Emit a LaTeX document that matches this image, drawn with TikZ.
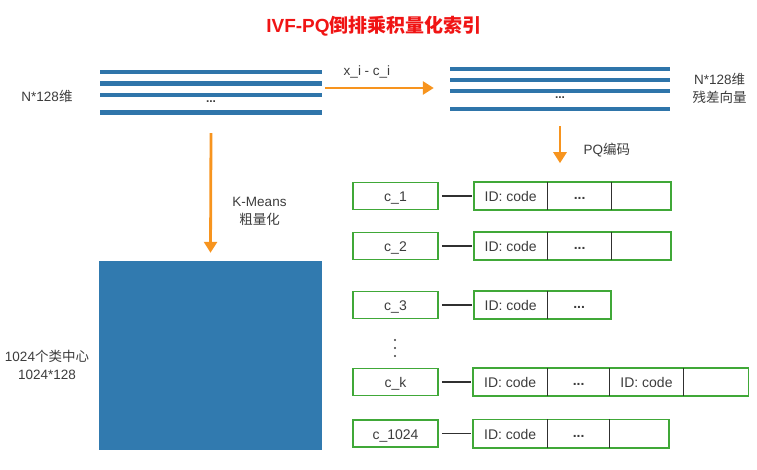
\documentclass[tikz,border=0pt]{standalone}
\usepackage{fontspec}
\setmainfont{Liberation Sans}
\newfontfamily\cjk{Noto Sans CJK SC}
\usetikzlibrary{arrows.meta}
\definecolor{barblue}{RGB}{47,117,170}
\definecolor{sqblue}{RGB}{49,122,175}
\definecolor{arrorange}{RGB}{247,148,30}
\definecolor{boxgreen}{RGB}{64,168,56}
\definecolor{txtgray}{RGB}{60,60,60}
\definecolor{titlered}{RGB}{240,20,20}
\begin{document}
\begin{tikzpicture}[x=1pt,y=-1pt,
  every node/.style={text=txtgray},
  bar/.style={fill=barblue,draw=none,minimum width=222pt,minimum height=4.5pt,inner sep=0pt},
  group/.style={draw=none,inner sep=0pt},
  oarrow/.style={draw=arrorange,line width=2.8pt,-{Triangle[width=13pt,length=11pt]}},
  lbl/.style={font=\fontsize{13.5}{18}\selectfont,align=center},
  cbox/.style={draw=boxgreen,line width=1.6pt,minimum width=85pt,minimum height=27pt,inner sep=0pt,text height=11pt,text depth=0pt,font=\fontsize{14}{16}\selectfont},
  cell/.style={draw=none,minimum height=28pt,inner sep=0pt,anchor=west,text height=11pt,text depth=0pt,font=\fontsize{14}{16}\selectfont},
  outer/.style={draw=boxgreen,line width=1.6pt},
  divider/.style={draw=txtgray!80!black,line width=1.3pt},
  conn/.style={draw=txtgray!80!black,line width=1.3pt},
  vdot/.style={fill=txtgray,draw=none,circle,inner sep=0pt,minimum size=2.4pt}]
\useasboundingbox (0,0) rectangle (757,470);

\newcommand{\celldots}{\raisebox{2pt}{\bfseries ...}}

% title
\node[font=\fontsize{19}{22}\selectfont\bfseries,text=titlered] (title) at (374,26) {IVF-PQ{\cjk 倒排乘积量化索引}};

% left bars
\node[bar] (lb1) at (211,72) {};
\node[bar] (lb2) at (211,83.5) {};
\node[bar] (lb3) at (211,95) {};
\node[bar] (lb4) at (211,112.5) {};
\node[font=\fontsize{12}{14}\selectfont\bfseries] (ldots) at (211,102) {...};
\node[group,minimum width=222pt,minimum height=46pt] (lgroup) at (211,92) {};
\node[lbl] (lN) at (47,96) {N*128{\cjk 维}};

% right bars
\node[bar,minimum width=220pt] (rb1) at (560,69) {};
\node[bar,minimum width=220pt] (rb2) at (560,80) {};
\node[bar,minimum width=220pt] (rb3) at (560,91) {};
\node[bar,minimum width=220pt] (rb4) at (560,109) {};
\node[font=\fontsize{12}{14}\selectfont\bfseries] (rdots) at (560,98) {...};
\node[group,minimum width=220pt,minimum height=46pt] (rgroup) at (560,89) {};
\node[lbl,anchor=west] (rN) at (689,88) {N*128{\cjk 维}\\{\cjk 残差向量}};

% arrow x_i - c_i
\draw[oarrow] ([xshift=3pt]lgroup.east |- 0,88) -- ([xshift=-16pt]rgroup.west |- 0,88);
\node[lbl] (xlab) at (367,72) {x\_i - c\_i};

% blue square
\node[fill=sqblue,draw=none,minimum width=223pt,minimum height=189pt,inner sep=0pt] (sq) at (210.5,355.5) {};
\node[lbl] (sqlab) at (47,365) {1024{\cjk 个类中心}\\1024*128};

\draw[oarrow] ([yshift=-18pt]lgroup.south) -- ([yshift=8pt]sq.north);
\node[lbl] (kmlab) at (259.5,211.5) {K-Means\\{\cjk 粗量化}};

\draw[oarrow] ([yshift=-14pt]rgroup.south) -- ([yshift=-51pt]rgroup.south);
\node[lbl,anchor=west] (pqlab) at (580,150) {PQ{\cjk 编码}};

% row 1
\node[cbox] (c1) at (395.5,196) {c\_1};
\node[cell,minimum width=73pt] (r1a) at (474,196) {ID: code};
\node[cell,minimum width=64pt] (r1b) at (r1a.east) {\celldots};
\node[cell,minimum width=59pt] (r1c) at (r1b.east) {};
\draw[outer] (r1a.north west) rectangle (r1c.south east);
\draw[divider] (r1a.north east) -- (r1a.south east);
\draw[divider] (r1b.north east) -- (r1b.south east);
\draw[conn] ([xshift=3pt]c1.east) -- ([xshift=-2pt]r1a.west);

% row 2
\node[cbox] (c2) at (395.5,246) {c\_2};
\node[cell,minimum width=73pt] (r2a) at (474,246) {ID: code};
\node[cell,minimum width=64pt] (r2b) at (r2a.east) {\celldots};
\node[cell,minimum width=59pt] (r2c) at (r2b.east) {};
\draw[outer] (r2a.north west) rectangle (r2c.south east);
\draw[divider] (r2a.north east) -- (r2a.south east);
\draw[divider] (r2b.north east) -- (r2b.south east);
\draw[conn] ([xshift=3pt]c2.east) -- ([xshift=-2pt]r2a.west);

% row 3
\node[cbox] (c3) at (395.5,305) {c\_3};
\node[cell,minimum width=73pt] (r3a) at (474,305) {ID: code};
\node[cell,minimum width=63pt] (r3b) at (r3a.east) {\celldots};
\draw[outer] (r3a.north west) rectangle (r3b.south east);
\draw[divider] (r3a.north east) -- (r3a.south east);
\draw[conn] ([xshift=3pt]c3.east) -- ([xshift=-2pt]r3a.west);

% vertical dots
\node[vdot] (vd1) at (395,340) {};
\node[vdot] (vd2) at (395,348) {};
\node[vdot] (vd3) at (395,356) {};

% row k
\node[cbox] (ck) at (395.5,382) {c\_k};
\node[cell,minimum width=74pt] (rka) at (473,382) {ID: code};
\node[cell,minimum width=62pt] (rkb) at (rka.east) {\celldots};
\node[cell,minimum width=73pt] (rkc) at (rkb.east) {ID: code};
\node[cell,minimum width=65pt] (rkd) at (rkc.east) {};
\draw[outer] (rka.north west) rectangle (rkd.south east);
\draw[divider] (rka.north east) -- (rka.south east);
\draw[divider] (rkb.north east) -- (rkb.south east);
\draw[divider] (rkc.north east) -- (rkc.south east);
\draw[conn] ([xshift=3pt]ck.east) -- ([xshift=-2pt]rka.west);

% row 1024
\node[cbox] (cn) at (395.5,433.5) {c\_1024};
\node[cell,minimum width=74pt] (rna) at (473,433.5) {ID: code};
\node[cell,minimum width=62pt] (rnb) at (rna.east) {\celldots};
\node[cell,minimum width=59pt] (rnc) at (rnb.east) {};
\draw[outer] (rna.north west) rectangle (rnc.south east);
\draw[divider] (rna.north east) -- (rna.south east);
\draw[divider] (rnb.north east) -- (rnb.south east);
\draw[conn] ([xshift=3pt]cn.east) -- ([xshift=-2pt]rna.west);
\end{tikzpicture}
\end{document}
